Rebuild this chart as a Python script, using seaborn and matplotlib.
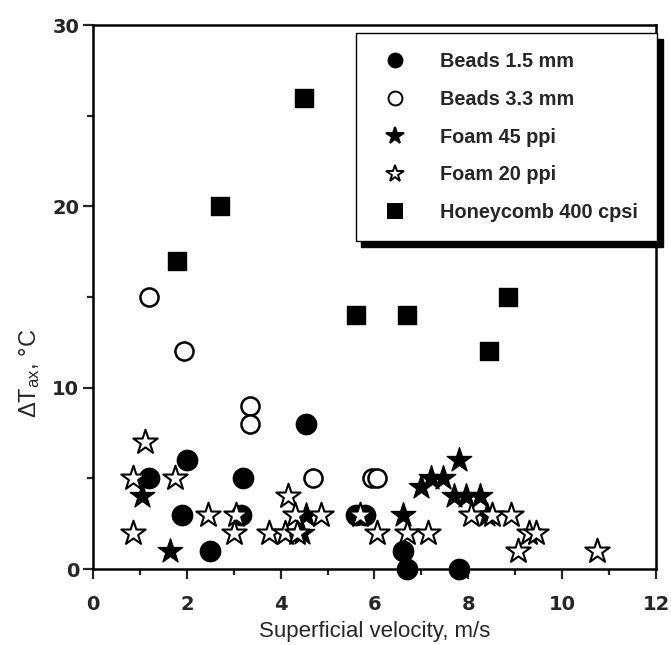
import numpy as np
import pandas as pd
import matplotlib
matplotlib.use("Agg")
import matplotlib.pyplot as plt
import seaborn as sns
from matplotlib.ticker import MultipleLocator

# ---- data ----
beads15_x = [1.2, 2.0, 1.9, 2.5, 3.2, 3.15, 4.55, 5.6, 5.8, 6.6, 6.7, 7.8]
beads15_y = [5, 6, 3, 1, 5, 3, 8, 3, 3, 1, 0, 0]

beads33_x = [1.2, 1.95, 3.35, 3.35, 4.7, 5.95, 6.05]
beads33_y = [15, 12, 9, 8, 5, 5, 5]

foam45_x = [1.05, 1.65, 4.55, 4.45, 6.6, 7.0, 7.2, 7.45, 7.8, 7.7, 7.95, 8.25, 8.4]
foam45_y = [4, 1, 3, 2, 3, 4.5, 5, 5, 6, 4, 4, 4, 3]

foam20_x = [1.1, 0.85, 1.75, 0.85, 2.45, 3.05, 3.0, 3.75, 4.15, 4.1, 4.3, 4.35,
            4.85, 5.7, 6.05, 6.7, 7.15, 8.05, 8.5, 8.9, 9.3, 9.45, 9.05, 10.75]
foam20_y = [7, 5, 5, 2, 3, 3, 2, 2, 4, 2, 3, 2,
            3, 3, 2, 2, 2, 3, 3, 3, 2, 2, 1, 1]

honey_x = [1.8, 2.7, 4.5, 5.6, 6.7, 8.45, 8.85]
honey_y = [17, 20, 26, 14, 14, 12, 15]

series_names = ["Beads 1.5 mm", "Beads 3.3 mm", "Foam 45 ppi", "Foam 20 ppi",
                "Honeycomb 400 cpsi"]

sns.set_theme(style="ticks")
plt.rcParams['font.family'] = ['Liberation Sans', 'DejaVu Sans']
plt.rcParams['mathtext.default'] = 'regular'

fig = plt.figure(figsize=(6.71, 6.45), dpi=100)
ax = fig.add_axes([0.1386, 0.1178, 0.839, 0.8434])

styles = [
    (beads15_x, beads15_y, "o", "black", 200, 1.5),
    (beads33_x, beads33_y, "o", "white", 170, 1.8),
    (foam45_x, foam45_y, "*", "black", 340, 1.0),
    (foam20_x, foam20_y, "*", "white", 340, 1.5),
    (honey_x, honey_y, "s", "black", 165, 1.0),
]
handles = []
for (xs, ys, mk, fc, s, lw), name in zip(styles, series_names):
    df = pd.DataFrame({"x": xs, "y": ys})
    sns.scatterplot(data=df, x="x", y="y", marker=mk, s=s, color=fc,
                    edgecolor="black", linewidth=lw, ax=ax, zorder=3,
                    clip_on=False, legend=False)
    handles.append(plt.Line2D([], [], linestyle="none", marker=mk,
                              markerfacecolor=fc, markeredgecolor="black",
                              markeredgewidth=1.4,
                              markersize={"o": 10, "*": 13, "s": 9.5}[mk],
                              label=name))

ax.set_xlim(0, 12)
ax.set_ylim(0, 30)
ax.xaxis.set_major_locator(MultipleLocator(2))
ax.xaxis.set_minor_locator(MultipleLocator(1))
ax.yaxis.set_major_locator(MultipleLocator(10))
ax.yaxis.set_minor_locator(MultipleLocator(5))
ax.tick_params(axis="both", which="major", direction="out", length=7, width=1.6,
               labelsize=14)
ax.tick_params(axis="x", which="major", pad=12)
ax.tick_params(axis="y", which="major", pad=3)
ax.tick_params(axis="both", which="minor", direction="out", length=4.5, width=1.6)
ax.tick_params(top=False, right=False)
for lbl in ax.get_xticklabels() + ax.get_yticklabels():
    lbl.set_fontweight("bold")
    lbl.set_fontfamily("DejaVu Sans")
for sp in ax.spines.values():
    sp.set_visible(True)
    sp.set_linewidth(1.8)
    sp.set_color("black")

ax.set_xlabel("Superficial velocity, m/s", fontsize=16, labelpad=5)
ax.set_ylabel(r"$\Delta$T$_{ax}$, °C", fontsize=17, labelpad=6)
ax.yaxis.set_label_coords(-0.09, 0.36)

leg = ax.legend(handles=handles, loc="upper right",
                bbox_to_anchor=(657 / 671, 1 - 33 / 645),
                bbox_transform=fig.transFigure,
                frameon=True, fancybox=False,
                shadow={"ox": 4, "oy": -4, "color": "black", "alpha": 1},
                prop={"weight": "bold", "size": 14.3, "family": "Liberation Sans"},
                borderpad=0.95, labelspacing=0.95, handlelength=2.0,
                handletextpad=1.3, borderaxespad=0, edgecolor="black")
leg.get_frame().set_linewidth(1.0)
leg.set_zorder(5)

fig.savefig("out.png", dpi=100)
